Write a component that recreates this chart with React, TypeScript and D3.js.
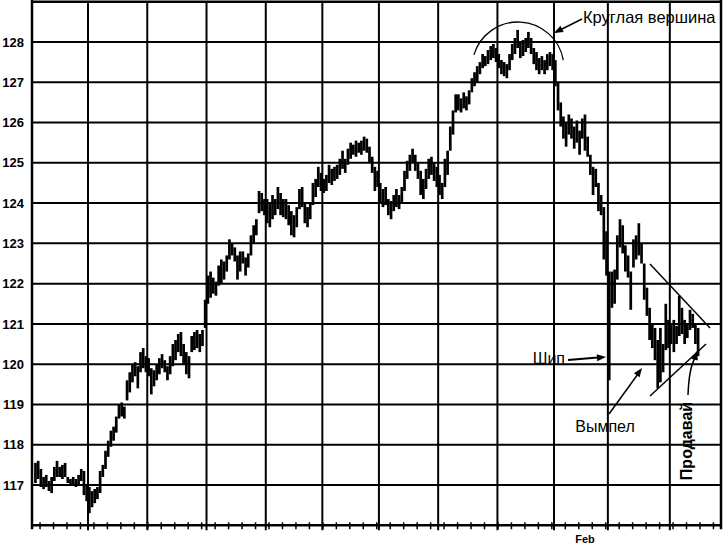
import React from 'react';
import * as d3 from 'd3';

// Daily bars: low / high prices
const lows = [
  117.05, 117.15, 116.95, 116.9, 116.95, 116.85, 116.8, 117.1, 117.2, 117.2,
  117.15, 117.2, 117.05, 117.0, 117.0, 116.95, 117.0, 117.1, 116.75, 116.6,
  116.3, 116.45, 116.55, 116.65, 116.8, 117.2, 117.4, 117.7, 117.95, 118.1,
  118.3, 118.65, 118.7, 118.65, 119.1, 119.3, 119.55, 119.7, 119.4, 119.8,
  119.9, 119.8, 119.7, 119.25, 119.45, 119.6, 119.75, 119.9, 119.8, 119.6,
  119.75, 119.95, 120.1, 120.3, 120.2, 120.0, 119.75, 119.65, 120.3, 120.35,
  120.4, 120.3, 120.45, 120.9, 121.5, 121.65, 121.75, 121.7, 121.95, 122.0,
  122.1, 122.3, 122.6, 122.7, 122.55, 122.1, 122.3, 122.5, 122.2, 122.4,
  122.7, 123.0, 123.2, 123.75, 123.8, 123.7, 123.5, 123.4, 123.6, 123.7,
  123.85, 123.7, 123.65, 123.6, 123.45, 123.2, 123.15, 123.4, 123.85, 123.9,
  123.5, 123.4, 123.6, 123.95, 124.15, 124.4, 124.3, 124.25, 124.3, 124.5,
  124.45, 124.55, 124.6, 124.7, 124.85, 124.75, 124.95, 125.1, 125.2, 125.15,
  125.25, 125.2, 125.3, 125.25, 125.0, 124.75, 124.3, 124.4, 124.0, 123.9,
  123.95, 123.7, 123.6, 123.8, 123.9, 123.85, 124.0, 124.3, 124.6, 124.8,
  125.0, 124.8, 124.6, 124.2, 124.1, 124.35, 124.6, 124.7, 124.55, 124.4,
  124.2, 124.1, 124.4, 124.7, 125.3, 125.7, 126.25, 126.3, 126.25, 126.35,
  126.3, 126.45, 126.75, 126.9, 127.0, 127.2, 127.35, 127.4, 127.45, 127.55,
  127.6, 127.5, 127.35, 127.2, 127.15, 127.1, 127.3, 127.55, 127.7, 127.85,
  127.6, 127.65, 127.75, 127.85, 127.7, 127.45, 127.3, 127.2, 127.3, 127.2,
  127.3, 127.4, 127.3, 126.9, 126.3, 125.9, 125.6, 125.4, 125.7, 125.6,
  125.35, 125.5, 125.2, 125.6, 125.3, 125.15, 124.7, 124.2, 124.4, 123.8,
  123.7, 122.6, 122.2, 119.6, 121.4, 121.5, 122.1, 122.9, 122.75, 122.3,
  122.15, 121.35, 122.4, 122.6, 122.7, 122.5, 121.6, 121.2, 120.6, 120.4,
  120.1, 119.4, 119.55, 119.8, 120.35, 120.4, 120.5, 120.3, 120.5, 120.7,
  120.75, 120.5, 120.65, 120.85, 120.9, 120.5, 120.2,
];
const highs = [
  117.55, 117.6, 117.4, 117.2, 117.25, 117.1, 117.2, 117.45, 117.6, 117.45,
  117.5, 117.55, 117.2, 117.15, 117.2, 117.15, 117.25, 117.4, 117.35, 117.0,
  116.95, 116.85, 116.9, 116.95, 117.35, 117.5, 117.85, 118.1, 118.35, 118.45,
  118.7, 119.0, 119.05, 118.95, 119.6, 119.8, 120.0, 120.05, 119.95, 120.3,
  120.4, 120.2, 120.15, 119.9, 119.85, 120.0, 120.15, 120.25, 120.1, 119.95,
  120.2, 120.5, 120.6, 120.75, 120.8, 120.5, 120.3, 120.2, 120.7, 120.8,
  120.85, 120.75, 120.85, 121.6, 122.2, 122.3, 122.15, 122.05, 122.45, 122.6,
  122.55, 122.7, 123.1, 123.0, 122.9, 122.7, 122.8, 122.8, 122.65, 122.75,
  123.2, 123.45, 123.6, 124.3, 124.25, 124.1, 124.1, 124.0, 124.2, 124.1,
  124.4, 124.25, 124.1, 124.1, 123.95, 123.8, 123.7, 123.9, 124.35, 124.4,
  124.0, 123.9, 124.0, 124.5, 124.6, 124.9, 124.75, 124.6, 124.7, 124.95,
  124.85, 124.9, 124.95, 125.1, 125.3, 125.1, 125.35, 125.5, 125.45, 125.55,
  125.5, 125.55, 125.65, 125.6, 125.4, 125.15, 124.9, 124.8, 124.5, 124.35,
  124.4, 124.1, 124.05, 124.2, 124.35, 124.2, 124.4, 124.8, 125.05, 125.2,
  125.35, 125.2, 125.0, 124.8, 124.6, 124.85, 125.1, 125.15, 125.0, 124.9,
  124.7, 124.5, 125.1, 125.3, 125.9, 126.3, 126.7, 126.7, 126.6, 126.75,
  126.65, 126.8, 127.1, 127.25, 127.4, 127.5, 127.7, 127.65, 127.8, 127.9,
  127.95, 127.85, 127.7, 127.55, 127.5, 127.45, 127.7, 127.95, 128.1, 128.3,
  128.0, 128.05, 128.1, 128.25, 128.1, 127.85, 127.75, 127.6, 127.65, 127.55,
  127.7, 127.75, 127.7, 127.55, 127.0, 126.5, 126.15, 126.0, 126.2, 126.1,
  125.9, 126.05, 125.8, 126.1, 126.2, 125.65, 125.2, 124.9, 124.85, 124.5,
  124.2, 123.9, 123.3, 122.3, 122.3, 122.35, 123.2, 123.6, 123.45, 122.95,
  122.7, 122.3, 123.1, 123.2, 123.5, 123.0, 122.5, 121.9, 121.4, 121.0,
  120.9, 120.6, 120.9, 120.5, 121.5, 121.1, 121.0, 121.1, 120.95, 121.7,
  121.4, 121.1, 121.0, 121.35, 121.25, 121.0, 120.9,
];

// bar index where each month begins (vertical grid lines)
const monthStarts = [20, 42, 64, 86, 107, 128, 150, 172, 193, 213, 236];
const monthLabels = [{ index: 204, label: 'Feb' }];
const priceTicks = [117, 118, 119, 120, 121, 122, 123, 124, 125, 126, 127, 128];
const weekTickFirst = 1.7;
const weekTickStep = 5;

const W = 726;
const H = 544;
const left = 32;
const right = 721;
const top = 1.7;
const bottom = 525.3;

function arrowHead(x1: number, y1: number, x2: number, y2: number, len = 9, wid = 3.5) {
  const a = Math.atan2(y2 - y1, x2 - x1);
  const bx = x2 - len * Math.cos(a);
  const by = y2 - len * Math.sin(a);
  const px = -Math.sin(a) * wid;
  const py = Math.cos(a) * wid;
  return `M${x2},${y2}L${bx + px},${by + py}L${bx - px},${by - py}Z`;
}

export default function App() {
  const n = lows.length;
  const x = d3.scaleLinear().domain([-1.29, 254.5]).range([left, right]);
  const y = d3.scaleLinear().domain([116, 129]).range([bottom, top]);
  const weekTicks = d3.range(weekTickFirst, 254, weekTickStep);
  const font = '"Liberation Sans", Arial, sans-serif';

  // round-top arc
  const cx = 518, cy = 68, r = 46;
  const a0 = (196.5 * Math.PI) / 180, a1 = (350 * Math.PI) / 180;
  const arcPath = `M${cx + r * Math.cos(a0)},${cy + r * Math.sin(a0)} A${r},${r} 0 0 1 ${cx + r * Math.cos(a1)},${cy + r * Math.sin(a1)}`;

  return (
    <svg width={W} height={H} style={{ position: 'absolute', left: 0, top: 0, background: '#fff' }}>
      <rect x={0} y={0} width={W} height={H} fill="#fff" />
      {/* horizontal grid */}
      {priceTicks.map((v) => (
        <line key={'h' + v} x1={left} x2={right} y1={y(v)} y2={y(v)} stroke="#000" strokeWidth={2} />
      ))}
      {/* vertical month grid */}
      {monthStarts.map((b) => (
        <line key={'v' + b} x1={x(b - 0.5)} x2={x(b - 0.5)} y1={top} y2={bottom + 5} stroke="#000" strokeWidth={2} />
      ))}
      {/* frame */}
      <line x1={left} x2={left} y1={0} y2={bottom + 4} stroke="#000" strokeWidth={2.5} />
      <line x1={right} x2={right} y1={0} y2={bottom + 4} stroke="#000" strokeWidth={2.5} />
      <line x1={left} x2={right} y1={top} y2={top} stroke="#000" strokeWidth={2.5} />
      <line x1={left} x2={right} y1={bottom} y2={bottom} stroke="#000" strokeWidth={2.5} />
      {/* weekly ticks */}
      {weekTicks.map((t) => (
        <line key={'t' + t} x1={x(t)} x2={x(t)} y1={bottom - 3} y2={bottom + 4} stroke="#000" strokeWidth={1.5} />
      ))}
      {/* y labels */}
      {priceTicks.map((v) => (
        <text key={'l' + v} x={24} y={y(v)} dy="0.36em" textAnchor="end" fontFamily={font} fontWeight="bold" fontSize={13}>
          {v}
        </text>
      ))}
      {monthLabels.map((m) => (
        <text key={m.label} x={x(m.index)} y={543} textAnchor="middle" fontFamily={font} fontWeight="bold" fontSize={11}>
          {m.label}
        </text>
      ))}
      {/* price bars */}
      {d3.range(n).map((i) => (
        <line key={'b' + i} x1={x(i)} x2={x(i)} y1={y(lows[i])} y2={y(highs[i])} stroke="#000" strokeWidth={2.7} />
      ))}
      {/* annotations */}
      <path d={arcPath} fill="none" stroke="#000" strokeWidth={1.3} />
      <line x1={582} y1={19} x2={556} y2={32} stroke="#000" strokeWidth={1.5} />
      <path d={arrowHead(582, 19, 554, 33)} fill="#000" />
      <text x={583} y={23} fontFamily={font} fontSize={16.5}>Круглая вершина</text>

      <text x={565} y={364} textAnchor="end" fontFamily={font} fontSize={16}>Шип</text>
      <line x1={568} y1={360} x2={598} y2={357.6} stroke="#000" strokeWidth={2} />
      <path d={arrowHead(568, 360, 606, 357)} fill="#000" />

      <text x={605} y={432} textAnchor="middle" fontFamily={font} fontSize={16}>Вымпел</text>
      <line x1={609} y1={414} x2={638} y2={374} stroke="#000" strokeWidth={1.5} />
      <path d={arrowHead(609, 414, 642, 368)} fill="#000" />

      <line x1={650} y1={264} x2={710} y2={328} stroke="#000" strokeWidth={1.5} />
      <line x1={650} y1={396} x2={706} y2={344} stroke="#000" strokeWidth={1.5} />

      <text transform="translate(692,441) rotate(-90)" textAnchor="middle" fontFamily={font} fontWeight="bold" fontSize={16}>
        Продавай
      </text>
      <path d="M688,395 Q689,368 695,358" fill="none" stroke="#000" strokeWidth={1.5} />
      <path d={arrowHead(692, 368, 697, 351)} fill="#000" />
    </svg>
  );
}
